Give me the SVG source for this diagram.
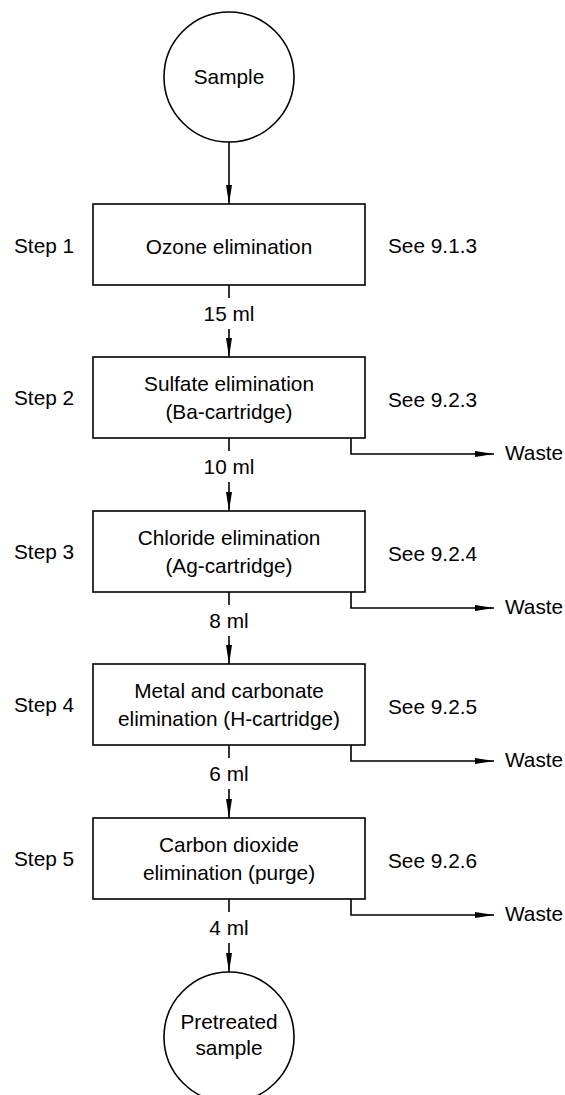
<svg xmlns="http://www.w3.org/2000/svg" width="565" height="1095" viewBox="0 0 565 1095">
<defs>
<marker id="arr" markerUnits="userSpaceOnUse" markerWidth="19" markerHeight="7" refX="19" refY="3.5" orient="auto">
<path d="M0,0.5 L19,3.5 L0,6.5 z" fill="#000"/>
</marker>
<style>
text{font-family:"Liberation Sans",Arial,sans-serif;font-size:20.8px;fill:#000}
.c{text-anchor:middle}
.n{fill:#fff;stroke:#000;stroke-width:1.6}
.l{fill:none;stroke:#000;stroke-width:1.6}
</style>
</defs>
<rect width="565" height="1095" fill="#fff"/>
<g id="connectors">
<line class="l" x1="229" y1="142" x2="229" y2="204" marker-end="url(#arr)"/>
<line class="l" x1="229" y1="285" x2="229" y2="298"/>
<line class="l" x1="229" y1="329" x2="229" y2="357" marker-end="url(#arr)"/>
<line class="l" x1="229" y1="438" x2="229" y2="451"/>
<line class="l" x1="229" y1="482" x2="229" y2="511" marker-end="url(#arr)"/>
<line class="l" x1="229" y1="592" x2="229" y2="605"/>
<line class="l" x1="229" y1="636" x2="229" y2="664" marker-end="url(#arr)"/>
<line class="l" x1="229" y1="745" x2="229" y2="758"/>
<line class="l" x1="229" y1="789" x2="229" y2="818" marker-end="url(#arr)"/>
<line class="l" x1="229" y1="899" x2="229" y2="912"/>
<line class="l" x1="229" y1="943" x2="229" y2="972" marker-end="url(#arr)"/>
<polyline class="l" points="351,438 351,454 494,454" marker-end="url(#arr)"/>
<polyline class="l" points="351,592 351,608 494,608" marker-end="url(#arr)"/>
<polyline class="l" points="351,745 351,761 494,761" marker-end="url(#arr)"/>
<polyline class="l" points="351,899 351,915 494,915" marker-end="url(#arr)"/>
<text class="c" x="229" y="321">15 ml</text>
<text class="c" x="229" y="474">10 ml</text>
<text class="c" x="229" y="628">8 ml</text>
<text class="c" x="229" y="781">6 ml</text>
<text class="c" x="229" y="935">4 ml</text>
<text x="505" y="460">Waste</text>
<text x="505" y="614">Waste</text>
<text x="505" y="767">Waste</text>
<text x="505" y="921">Waste</text>
</g>
<g id="sample">
<circle class="n" cx="229" cy="77" r="65"/>
<text class="c" x="229" y="84">Sample</text>
</g>
<g id="step1">
<rect class="n" x="93" y="204" width="272" height="81"/>
<text class="c" x="229" y="254">Ozone elimination</text>
<text x="14" y="253">Step 1</text>
<text x="388" y="253">See 9.1.3</text>
</g>
<g id="step2">
<rect class="n" x="93" y="357" width="272" height="81"/>
<text class="c" x="229" y="391">Sulfate elimination</text>
<text class="c" x="229" y="419">(Ba-cartridge)</text>
<text x="14" y="405">Step 2</text>
<text x="388" y="407">See 9.2.3</text>
</g>
<g id="step3">
<rect class="n" x="93" y="511" width="272" height="81"/>
<text class="c" x="229" y="545">Chloride elimination</text>
<text class="c" x="229" y="573">(Ag-cartridge)</text>
<text x="14" y="559">Step 3</text>
<text x="388" y="561">See 9.2.4</text>
</g>
<g id="step4">
<rect class="n" x="93" y="664" width="272" height="81"/>
<text class="c" x="229" y="698">Metal and carbonate</text>
<text class="c" x="229" y="726">elimination (H-cartridge)</text>
<text x="14" y="712">Step 4</text>
<text x="388" y="714">See 9.2.5</text>
</g>
<g id="step5">
<rect class="n" x="93" y="818" width="272" height="81"/>
<text class="c" x="229" y="852">Carbon dioxide</text>
<text class="c" x="229" y="880">elimination (purge)</text>
<text x="14" y="866">Step 5</text>
<text x="388" y="868">See 9.2.6</text>
</g>
<g id="pretreated">
<circle class="n" cx="229" cy="1037" r="65"/>
<text class="c" x="229" y="1029">Pretreated</text>
<text class="c" x="229" y="1055">sample</text>
</g>
</svg>
